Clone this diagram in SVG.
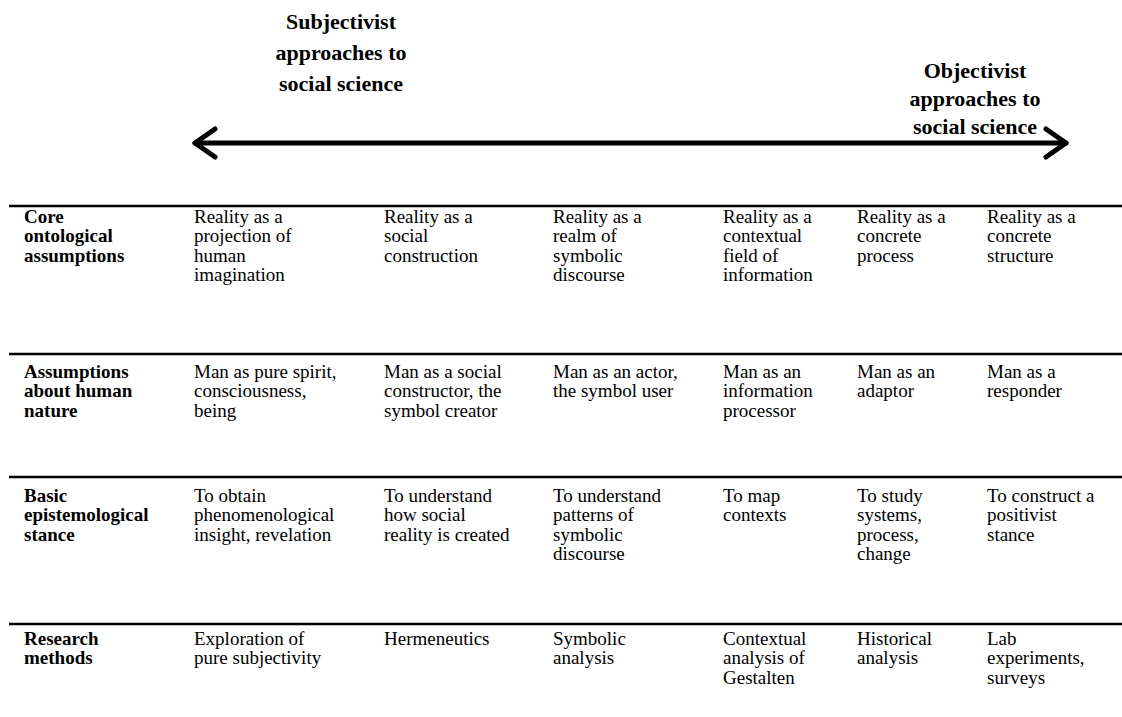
<svg xmlns="http://www.w3.org/2000/svg" width="1122" height="717" viewBox="0 0 1122 717">
<style>
.h{font-family:"Liberation Serif","Times New Roman",serif;font-size:22px;font-weight:bold;fill:#000;text-anchor:middle}
.t{font-family:"Liberation Serif","Times New Roman",serif;font-size:19px;fill:#000}
.b{font-weight:bold}
.rule{stroke:#000;stroke-width:2.5}
.arr{stroke:#000;stroke-width:5;fill:none;stroke-linecap:round;stroke-linejoin:round}
</style>
<rect width="1122" height="717" fill="#fff"/>
<g id="header-left">
<text class="h" x="341" y="29">Subjectivist</text>
<text class="h" x="341" y="60">approaches to</text>
<text class="h" x="341" y="91">social science</text>
</g>
<g id="header-right">
<text class="h" x="975" y="78">Objectivist</text>
<text class="h" x="975" y="106">approaches to</text>
<text class="h" x="975" y="134">social science</text>
</g>
<g id="connectors">
<path class="arr" d="M195 143 H1066"/>
<path class="arr" d="M215 129 L195 143 L215 157"/>
<path class="arr" d="M1046 129 L1066 143 L1046 157"/>
</g>
<g id="rules">
<line class="rule" x1="9" y1="206" x2="1122" y2="206"/>
<line class="rule" x1="9" y1="354" x2="1122" y2="354"/>
<line class="rule" x1="9" y1="477" x2="1122" y2="477"/>
<line class="rule" x1="9" y1="624" x2="1122" y2="624"/>
</g>
<g id="row1" class="t">
<text class="b" x="24" y="223"><tspan x="24">Core</tspan><tspan x="24" dy="19.4">ontological</tspan><tspan x="24" dy="19.4">assumptions</tspan></text>
<text x="194" y="223"><tspan x="194">Reality as a</tspan><tspan x="194" dy="19.4">projection of</tspan><tspan x="194" dy="19.4">human</tspan><tspan x="194" dy="19.4">imagination</tspan></text>
<text x="384" y="223"><tspan x="384">Reality as a</tspan><tspan x="384" dy="19.4">social</tspan><tspan x="384" dy="19.4">construction</tspan></text>
<text x="553" y="223"><tspan x="553">Reality as a</tspan><tspan x="553" dy="19.4">realm of</tspan><tspan x="553" dy="19.4">symbolic</tspan><tspan x="553" dy="19.4">discourse</tspan></text>
<text x="723" y="223"><tspan x="723">Reality as a</tspan><tspan x="723" dy="19.4">contextual</tspan><tspan x="723" dy="19.4">field of</tspan><tspan x="723" dy="19.4">information</tspan></text>
<text x="857" y="223"><tspan x="857">Reality as a</tspan><tspan x="857" dy="19.4">concrete</tspan><tspan x="857" dy="19.4">process</tspan></text>
<text x="987" y="223"><tspan x="987">Reality as a</tspan><tspan x="987" dy="19.4">concrete</tspan><tspan x="987" dy="19.4">structure</tspan></text>
</g>
<g id="row2" class="t">
<text class="b" x="24" y="378"><tspan x="24">Assumptions</tspan><tspan x="24" dy="19.4">about human</tspan><tspan x="24" dy="19.4">nature</tspan></text>
<text x="194" y="378"><tspan x="194">Man as pure spirit,</tspan><tspan x="194" dy="19.4">consciousness,</tspan><tspan x="194" dy="19.4">being</tspan></text>
<text x="384" y="378"><tspan x="384">Man as a social</tspan><tspan x="384" dy="19.4">constructor, the</tspan><tspan x="384" dy="19.4">symbol creator</tspan></text>
<text x="553" y="378"><tspan x="553">Man as an actor,</tspan><tspan x="553" dy="19.4">the symbol user</tspan></text>
<text x="723" y="378"><tspan x="723">Man as an</tspan><tspan x="723" dy="19.4">information</tspan><tspan x="723" dy="19.4">processor</tspan></text>
<text x="857" y="378"><tspan x="857">Man as an</tspan><tspan x="857" dy="19.4">adaptor</tspan></text>
<text x="987" y="378"><tspan x="987">Man as a</tspan><tspan x="987" dy="19.4">responder</tspan></text>
</g>
<g id="row3" class="t">
<text class="b" x="24" y="502"><tspan x="24">Basic</tspan><tspan x="24" dy="19.4">epistemological</tspan><tspan x="24" dy="19.4">stance</tspan></text>
<text x="194" y="502"><tspan x="194">To obtain</tspan><tspan x="194" dy="19.4">phenomenological</tspan><tspan x="194" dy="19.4">insight, revelation</tspan></text>
<text x="384" y="502"><tspan x="384">To understand</tspan><tspan x="384" dy="19.4">how social</tspan><tspan x="384" dy="19.4">reality is created</tspan></text>
<text x="553" y="502"><tspan x="553">To understand</tspan><tspan x="553" dy="19.4">patterns of</tspan><tspan x="553" dy="19.4">symbolic</tspan><tspan x="553" dy="19.4">discourse</tspan></text>
<text x="723" y="502"><tspan x="723">To map</tspan><tspan x="723" dy="19.4">contexts</tspan></text>
<text x="857" y="502"><tspan x="857">To study</tspan><tspan x="857" dy="19.4">systems,</tspan><tspan x="857" dy="19.4">process,</tspan><tspan x="857" dy="19.4">change</tspan></text>
<text x="987" y="502"><tspan x="987">To construct a</tspan><tspan x="987" dy="19.4">positivist</tspan><tspan x="987" dy="19.4">stance</tspan></text>
</g>
<g id="row4" class="t">
<text class="b" x="24" y="645"><tspan x="24">Research</tspan><tspan x="24" dy="19.4">methods</tspan></text>
<text x="194" y="645"><tspan x="194">Exploration of</tspan><tspan x="194" dy="19.4">pure subjectivity</tspan></text>
<text x="384" y="645"><tspan x="384">Hermeneutics</tspan></text>
<text x="553" y="645"><tspan x="553">Symbolic</tspan><tspan x="553" dy="19.4">analysis</tspan></text>
<text x="723" y="645"><tspan x="723">Contextual</tspan><tspan x="723" dy="19.4">analysis of</tspan><tspan x="723" dy="19.4">Gestalten</tspan></text>
<text x="857" y="645"><tspan x="857">Historical</tspan><tspan x="857" dy="19.4">analysis</tspan></text>
<text x="987" y="645"><tspan x="987">Lab</tspan><tspan x="987" dy="19.4">experiments,</tspan><tspan x="987" dy="19.4">surveys</tspan></text>
</g>
</svg>
